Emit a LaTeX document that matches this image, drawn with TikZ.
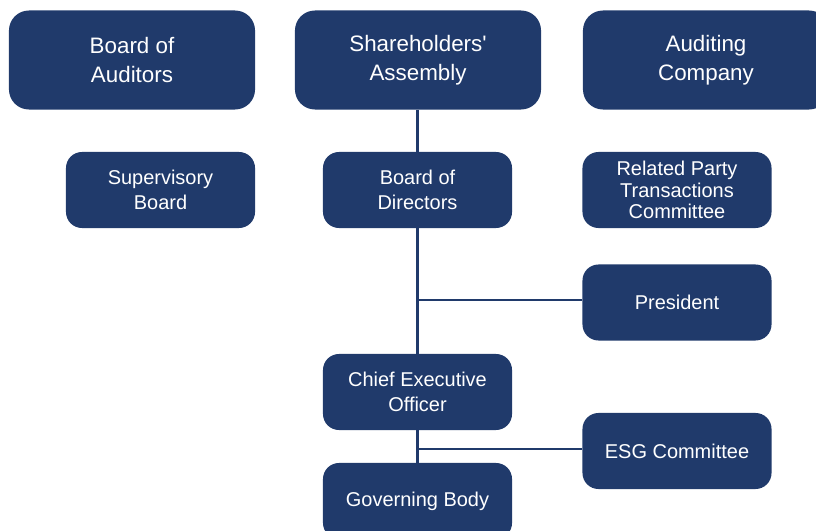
\documentclass[tikz,border=0pt]{standalone}
\usepackage{fontspec}
\setmainfont{Liberation Sans}
\definecolor{navy}{HTML}{203A6B}
\tikzset{
    bigbox/.style={fill=navy, text=white, rounded corners=0.5cm, align=center,
        minimum width=6.15cm, minimum height=2.475cm, inner sep=0pt,
        font=\fontsize{15.9}{20.6}\selectfont},
    smallbox/.style={fill=navy, text=white, rounded corners=0.4cm, align=center,
        minimum width=4.725cm, minimum height=1.9cm, inner sep=0pt,
        font=\fontsize{14.2}{17.7}\selectfont},
    link/.style={navy, line width=2pt}
}
\begin{document}
\begin{tikzpicture}[x=0.025cm, y=-0.025cm]
        \useasboundingbox (0,0) rectangle (816,531);

        % connectors
        \coordinate (presjoin) at (417,300);
        \coordinate (esgjoin) at (417,449);

        % top row
        \node[bigbox] (boa) at (132,60) {Board of\\Auditors};
        \node[bigbox] (sa) at (418,60) {Shareholders\textquotesingle\\Assembly};
        \node[bigbox] (ac) at (706,60) {Auditing\\Company};

        % second row
        \node[smallbox] (sb) at (160.5,190) {Supervisory\\Board};
        \node[smallbox] (bod) at (417.5,190) {Board of\\Directors};
        \node[smallbox, font=\fontsize{14.2}{15.2}\selectfont] (rpt) at (677,190) {Related Party\\Transactions\\Committee};

        % management
        \node[smallbox] (pres) at (677,302.5) {President};
        \node[smallbox] (ceo) at (417.5,392) {Chief Executive\\Officer};
        \node[smallbox] (esg) at (677,451) {ESG Committee};
        \node[smallbox] (gb) at (417.5,501) {Governing Body};

        % lines
        \draw[link] (sa.south -| bod.north) -- (bod.north);
        \draw[link] (bod.south) -- (ceo.north);
        \draw[link] (presjoin) -- (presjoin -| pres.west);
        \draw[link] (ceo.south) -- (gb.north);
        \draw[link] (esgjoin) -- (esgjoin -| esg.west);
\end{tikzpicture}
\end{document}
